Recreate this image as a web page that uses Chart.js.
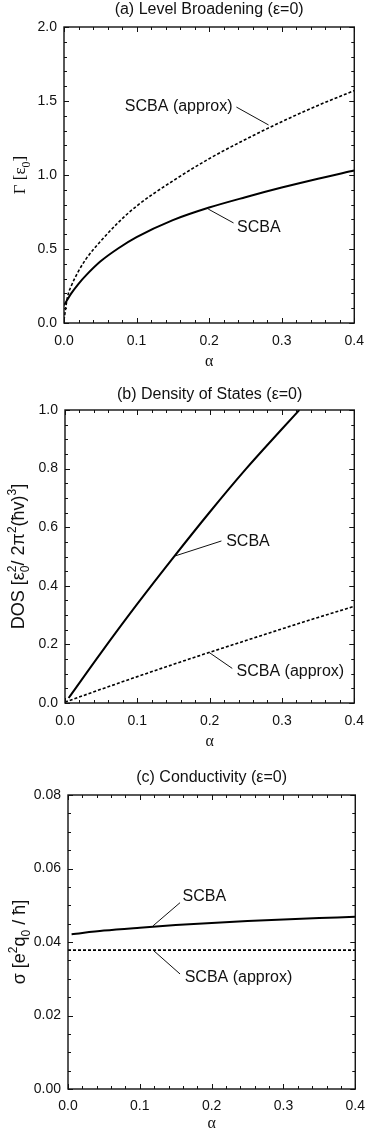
<!DOCTYPE html>
<html>
<head>
<meta charset="utf-8">
<script src="https://cdn.jsdelivr.net/npm/chart.js@4/dist/chart.umd.min.js"></script>
<style>
  body { margin: 0; background: #fff; }
  .panel { position: absolute; left: 0; width: 374px; }
</style>
</head>
<body>
<div class="panel" style="top:0;height:372px"><canvas id="chartA"></canvas></div>
<div class="panel" style="top:375px;height:377px"><canvas id="chartB"></canvas></div>
<div class="panel" style="top:752px;height:381px"><canvas id="chartC"></canvas></div>
<script>
// (a) level broadening
let alphaA = [0, 0.005, 0.01, 0.02, 0.03, 0.05, 0.075, 0.1, 0.15, 0.2, 0.25, 0.3, 0.35, 0.4]
let gammaScba = [0.12, 0.16, 0.2, 0.265, 0.32, 0.415, 0.505, 0.58, 0.695, 0.78, 0.85, 0.915, 0.975, 1.03]
let gammaApprox = [0.02, 0.18, 0.25, 0.35, 0.43, 0.55, 0.68, 0.79, 0.96, 1.11, 1.24, 1.36, 1.47, 1.57]

// (b) density of states
let alphaB = [0.005, 0.05, 0.1, 0.15, 0.2, 0.25, 0.3, 0.324]
let dosScba = [0.017, 0.172, 0.338, 0.497, 0.651, 0.798, 0.935, 1.0]
let alphaB2 = [0, 0.05, 0.1, 0.15, 0.2, 0.25, 0.3, 0.35, 0.4]
let dosApprox = [0.003, 0.047, 0.09, 0.132, 0.173, 0.213, 0.253, 0.292, 0.33]

// (c) conductivity
let alphaC = [0.005, 0.05, 0.1, 0.15, 0.2, 0.25, 0.3, 0.35, 0.4]
let sigmaScba = [0.0421, 0.0431, 0.0439, 0.0446, 0.0452, 0.0457, 0.0461, 0.0465, 0.0469]
let alphaC2 = [0, 0.1, 0.2, 0.3, 0.4]
let sigmaApprox = [0.0378, 0.0378, 0.0378, 0.0378, 0.0378]

let xTicks = [0, 0.1, 0.2, 0.3, 0.4]

const SANS = '"Liberation Sans", Arial, sans-serif'
const SERIF = '"Liberation Serif", "Times New Roman", serif'
Chart.defaults.font.family = SANS
Chart.defaults.color = '#111'

const pts = (xs, ys) => xs.map((v, i) => ({ x: v, y: ys[i] }))

// rotated axis title with sub/superscripts
const drawRich = (ctx, parts, x, y, size, family) => {
    const big = size + 'px ' + family
    const small = Math.round(size * 0.68) + 'px ' + family
    const widthOf = p => {
        if (p.t) { ctx.font = big; return ctx.measureText(p.t).width }
        ctx.font = small
        return Math.max(ctx.measureText(p.sub || '').width, ctx.measureText(p.sup || '').width)
    }
    let total = parts.reduce((s, p) => s + widthOf(p), 0)
    ctx.save()
    ctx.translate(x, y)
    ctx.rotate(-Math.PI / 2)
    ctx.textAlign = 'left'
    ctx.textBaseline = 'alphabetic'
    let cx = -total / 2
    parts.forEach(p => {
        let w = widthOf(p)
        if (p.t) {
            ctx.font = big
            ctx.fillText(p.t, cx, 0)
        } else {
            ctx.font = small
            if (p.sub) ctx.fillText(p.sub, cx, size * 0.28)
            if (p.sup) ctx.fillText(p.sup, cx, -size * 0.42)
        }
        cx += w
    })
    ctx.restore()
}

// box, inward ticks, title and labels
const frame = {
    id: 'frame',
    afterDatasetsDraw(chart, args, o) {
        const { ctx, chartArea: a, scales: { x, y } } = chart
        ctx.save()
        ctx.strokeStyle = '#111'
        ctx.lineWidth = 1
        const eps = 1e-9
        for (let v = x.min; v <= x.max + eps; v += o.xMinor) {
            let p = Math.round(x.getPixelForValue(v)) + 0.5
            let major = Math.abs(v / 0.1 - Math.round(v / 0.1)) < 1e-6
            let len = major ? 5 : 3
            ctx.beginPath()
            ctx.moveTo(p, a.bottom); ctx.lineTo(p, a.bottom - len)
            ctx.moveTo(p, a.top); ctx.lineTo(p, a.top + len)
            ctx.stroke()
        }
        for (let v = y.min; v <= y.max + eps; v += o.yMinor) {
            let p = Math.round(y.getPixelForValue(v)) + 0.5
            let major = Math.abs(v / o.yMajor - Math.round(v / o.yMajor)) < 1e-6
            let len = major ? 5 : 3
            ctx.beginPath()
            ctx.moveTo(a.left, p); ctx.lineTo(a.left + len, p)
            ctx.moveTo(a.right, p); ctx.lineTo(a.right - len, p)
            ctx.stroke()
        }
        ctx.lineWidth = 1.4
        ctx.strokeRect(a.left, a.top, a.right - a.left, a.bottom - a.top)

        ctx.fillStyle = '#111'
        ctx.textAlign = 'center'
        ctx.textBaseline = 'middle'
        ctx.font = '16px ' + SANS
        ctx.fillText(o.title, (a.left + a.right) / 2, a.top - o.titleGap)

        ctx.lineWidth = 1
        o.notes.forEach(n => {
            ctx.fillText(n.text, x.getPixelForValue(n.at[0]), y.getPixelForValue(n.at[1]))
            ctx.beginPath()
            ctx.moveTo(x.getPixelForValue(n.from[0]), y.getPixelForValue(n.from[1]))
            ctx.lineTo(x.getPixelForValue(n.to[0]), y.getPixelForValue(n.to[1]))
            ctx.stroke()
        })

        let yl = o.yLabel
        drawRich(ctx, yl.parts, yl.x, (a.top + a.bottom) / 2, yl.size, yl.family)
        ctx.restore()
    }
}

const makeChart = (id, cfg) => new Chart(document.getElementById(id), {
    type: 'line',
    data: {
        datasets: [{
            data: cfg.solid,
            borderColor: '#000',
            borderWidth: 2,
            pointRadius: 0,
            cubicInterpolationMode: 'monotone'
        }, {
            data: cfg.dashed,
            borderColor: '#000',
            borderWidth: 1.6,
            borderDash: [3, 2],
            pointRadius: 0,
            cubicInterpolationMode: 'monotone'
        }]
    },
    options: {
        responsive: true,
        maintainAspectRatio: false,
        animation: false,
        layout: { padding: { top: cfg.top, right: cfg.right, left: 0, bottom: 0 } },
        plugins: {
            legend: { display: false },
            tooltip: { enabled: false },
            frame: cfg.frame
        },
        scales: {
            x: {
                type: 'linear',
                min: 0,
                max: 0.4,
                afterBuildTicks: s => { s.ticks = xTicks.map(v => ({ value: v })) },
                afterFit: s => { s.height = cfg.xHeight },
                grid: { display: false, drawTicks: false },
                border: { display: false },
                ticks: {
                    padding: cfg.xPad,
                    font: { size: 14 },
                    callback: v => v.toFixed(1)
                },
                title: {
                    display: true,
                    text: 'α',
                    font: { size: 16, family: SERIF },
                    padding: { top: 0, bottom: cfg.aPad }
                }
            },
            y: {
                min: cfg.yMin,
                max: cfg.yMax,
                afterBuildTicks: s => { s.ticks = cfg.yTicks.map(v => ({ value: v })) },
                afterFit: s => { s.width = cfg.yWidth },
                grid: { display: false, drawTicks: false },
                border: { display: false },
                ticks: {
                    padding: 7,
                    font: { size: 14 },
                    callback: v => v.toFixed(cfg.digits)
                }
            }
        }
    },
    plugins: [frame]
})

makeChart('chartA', {
    solid: pts(alphaA, gammaScba),
    dashed: pts(alphaA, gammaApprox),
    top: 27, right: 12, xHeight: 49, yWidth: 64, xPad: 10, aPad: 1,
    yMin: 0, yMax: 2, yTicks: [0, 0.5, 1, 1.5, 2], digits: 1,
    frame: {
        title: '(a) Level Broadening (ε=0)', titleGap: 17,
        xMinor: 0.02, yMinor: 0.1, yMajor: 0.5,
        yLabel: { parts: [{ t: 'Γ [ε' }, { sub: '0' }, { t: ']' }], x: 25, size: 17, family: SERIF },
        notes: [
            { text: 'SCBA (approx)', at: [0.158, 1.459], from: [0.2376, 1.459], to: [0.2819, 1.338] },
            { text: 'SCBA', at: [0.2685, 0.642], from: [0.2336, 0.676], to: [0.1987, 0.77] }
        ]
    }
})

makeChart('chartB', {
    solid: pts(alphaB, dosScba),
    dashed: pts(alphaB2, dosApprox),
    top: 35, right: 15, xHeight: 49, yWidth: 65, xPad: 10, aPad: 1,
    yMin: 0, yMax: 1, yTicks: [0, 0.2, 0.4, 0.6, 0.8, 1], digits: 1,
    frame: {
        title: '(b) Density of States (ε=0)', titleGap: 15,
        xMinor: 0.02, yMinor: 0.05, yMajor: 0.2,
        yLabel: {
            parts: [{ t: 'DOS [ε' }, { sub: '0', sup: '2' }, { t: '/ 2π' }, { sup: '2' }, { t: '(ħv)' }, { sup: '3' }, { t: ']' }],
            x: 24, size: 18, family: SANS
        },
        notes: [
            { text: 'SCBA', at: [0.253, 0.551], from: [0.2163, 0.553], to: [0.1524, 0.502] },
            { text: 'SCBA (approx)', at: [0.3116, 0.107], from: [0.2313, 0.118], to: [0.1996, 0.172] }
        ]
    }
})

makeChart('chartC', {
    solid: pts(alphaC, sigmaScba),
    dashed: pts(alphaC2, sigmaApprox),
    top: 43, right: 12, xHeight: 44, yWidth: 68, xPad: 9, aPad: 0,
    yMin: 0, yMax: 0.08, yTicks: [0, 0.02, 0.04, 0.06, 0.08], digits: 2,
    frame: {
        title: '(c) Conductivity (ε=0)', titleGap: 17,
        xMinor: 0.02, yMinor: 0.005, yMajor: 0.02,
        yLabel: {
            parts: [{ t: 'σ [e' }, { sup: '2' }, { t: 'q' }, { sub: '0' }, { t: ' / ħ]' }],
            x: 25, size: 18, family: SANS
        },
        notes: [
            { text: 'SCBA', at: [0.1898, 0.0523], from: [0.156, 0.0507], to: [0.1184, 0.0444] },
            { text: 'SCBA (approx)', at: [0.2374, 0.0304], from: [0.156, 0.0313], to: [0.1184, 0.0378] }
        ]
    }
})
</script>
</body>
</html>
